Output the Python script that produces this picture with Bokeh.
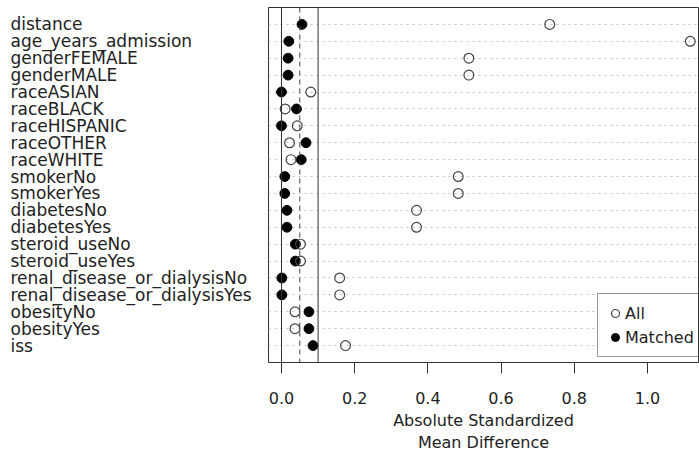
from bokeh.plotting import figure
from bokeh.layouts import row
from bokeh.models import (Range1d, FixedTicker, Span, ColumnDataSource,
                          Legend, LegendItem, PrintfTickFormatter)
from bokeh.embed import file_html
from bokeh.resources import INLINE
from bokeh.core.properties import value

covariates = ["distance", "age_years_admission", "genderFEMALE", "genderMALE",
              "raceASIAN", "raceBLACK", "raceHISPANIC", "raceOTHER", "raceWHITE",
              "smokerNo", "smokerYes", "diabetesNo", "diabetesYes",
              "steroid_useNo", "steroid_useYes",
              "renal_disease_or_dialysisNo", "renal_disease_or_dialysisYes",
              "obesityNo", "obesityYes", "iss"]
all_vals = [0.733, 1.117, 0.512, 0.512, 0.080, 0.010, 0.043, 0.022, 0.026,
            0.483, 0.483, 0.369, 0.369, 0.052, 0.052, 0.159, 0.159,
            0.037, 0.037, 0.175]
matched_vals = [0.056, 0.020, 0.018, 0.018, 0.000, 0.041, 0.000, 0.067, 0.054,
                0.009, 0.009, 0.015, 0.015, 0.038, 0.038, 0.001, 0.001,
                0.075, 0.075, 0.086]
x_ticks = [0.0, 0.2, 0.4, 0.6, 0.8, 1.0]
ref_lines = [0.0, 0.1]
thresh_line = 0.05
axis_title = "Absolute Standardized\nMean Difference"

n = len(covariates)
ys = [n - i for i in range(n)]
FONT = "DejaVu Sans"
LEFT_W = 268

src = ColumnDataSource(dict(y=ys, name=covariates, all=all_vals, matched=matched_vals,
                            lx=[10] * n))
yr = Range1d(0, n + 1)

# ---- left panel: covariate names -------------------------------------
pl = figure(width=LEFT_W, height=454, output_backend="svg", toolbar_location=None,
            x_range=Range1d(0, LEFT_W), y_range=yr,
            min_border_left=0, min_border_right=0, min_border_top=7,
            min_border_bottom=92)
pl.axis.visible = False
pl.grid.visible = False
pl.outline_line_color = None
pl.background_fill_color = "white"
pl.border_fill_color = "white"
pl.text(x="lx", y="y", text="name", source=src, text_font=value(FONT),
        text_font_size="17px", text_baseline="middle", text_align="left",
        text_color="#222222")

# ---- main panel --------------------------------------------------------
p = figure(width=699 - LEFT_W, height=454, output_backend="svg", toolbar_location=None,
           x_range=Range1d(-0.0355, 1.1395), y_range=yr,
           min_border_left=0, min_border_right=1, min_border_top=7,
           min_border_bottom=92)
p.grid.visible = False
p.yaxis.visible = False
p.outline_line_color = "#333333"
p.outline_line_width = 1
p.background_fill_color = "white"
p.border_fill_color = "white"

xa = p.xaxis[0]
xa.ticker = FixedTicker(ticks=x_ticks)
xa.formatter = PrintfTickFormatter(format="%.1f")
xa.axis_line_color = None
xa.major_tick_out = 11
xa.major_tick_in = 0
xa.minor_tick_line_color = None
xa.major_tick_line_color = "#333333"
xa.major_label_standoff = 18
xa.major_label_text_font = FONT
xa.major_label_text_font_size = "16px"
xa.major_label_text_color = "#222222"
xa.axis_label = axis_title
xa.axis_label_standoff = 4
xa.axis_label_text_font = FONT
xa.axis_label_text_font_size = "16px"
xa.axis_label_text_font_style = "normal"
xa.axis_label_text_color = "#222222"
xa.axis_label_text_line_height = 1.17

# dotted row guides
p.hspan(y=ys, line_color="#c0c0c0", line_dash="2 4", line_width=1)

for loc in ref_lines:
    p.add_layout(Span(location=loc, dimension="height", line_color="#333333", line_width=1))
p.add_layout(Span(location=thresh_line, dimension="height", line_color="#444444",
                  line_width=1, line_dash="5 4"))

r_m = p.scatter(x="matched", y="y", source=src, size=9.8, marker="circle",
                fill_color="black", line_color="black")
r_a = p.scatter(x="all", y="y", source=src, size=9.8, marker="circle",
                fill_color=None, line_color="#444444", line_width=1.2)

legend = Legend(items=[LegendItem(label="All", renderers=[r_a]),
                       LegendItem(label="Matched", renderers=[r_m])],
                location=(329, 5), margin=0, padding=7, spacing=0,
                glyph_width=20, glyph_height=24, label_height=24,
                label_standoff=0, label_text_font=FONT,
                label_text_font_size="16px", label_text_color="#222222",
                border_line_color="#333333", border_line_width=1,
                background_fill_color="white", background_fill_alpha=1)
p.add_layout(legend)

layout = row(pl, p, spacing=0)
open("out.html", "w").write(file_html(layout, INLINE))
